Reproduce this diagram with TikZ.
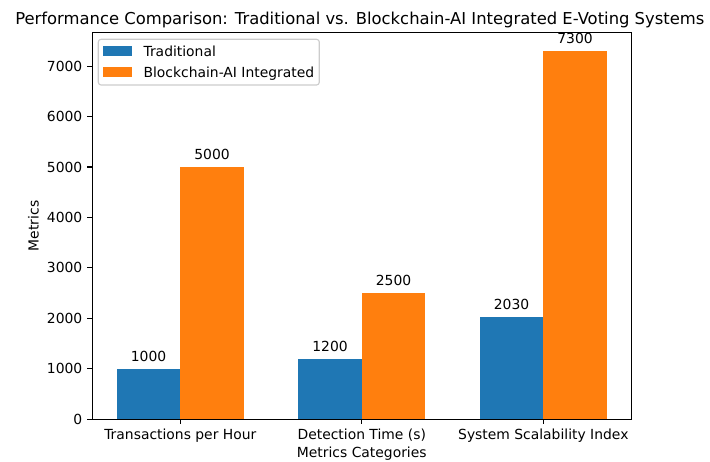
\documentclass[tikz,border=0pt]{standalone}
\usepackage{fontspec}
\setmainfont{DejaVu Sans}
\definecolor{tradblue}{HTML}{1F77B4}
\definecolor{chainorange}{HTML}{FF7F0E}
\definecolor{legendedge}{RGB}{204,204,204}
\tikzset{
  ticklabel/.style={inner sep=0pt, font=\fontsize{10}{12}\selectfont},
  barlabel/.style={inner sep=0pt, anchor=base, yshift=5.4pt, font=\fontsize{10}{12}\selectfont},
  tickmark/.style={line width=0.8pt},
  tradbar/.style={fill=tradblue},
  chainbar/.style={fill=chainorange},
}
\begin{document}
\begin{tikzpicture}[x=0.72pt,y=-0.72pt]
\useasboundingbox (0,0) rectangle (710,461);

% data area: x in category units, y in metric units
\begin{scope}[shift={(180.3,419.3)}, x=130.68pt, y=0.036338pt]
  % bars
  \foreach \i/\t/\b in {0/1000/5000, 1/1200/2500, 2/2030/7300} {
    \fill[tradbar] (\i-0.35,0) rectangle (\i,\t);
    \fill[chainbar] (\i,0) rectangle (\i+0.35,\b);
    \node[barlabel] (lt\i) at (\i-0.175,\t) {\t};
    \node[barlabel] (lb\i) at (\i+0.175,\b) {\b};
  }
  % axes frame
  \draw[line width=0.8pt] (-0.485,0) rectangle (2.485,7665);
  % y ticks
  \foreach \v in {0,1000,...,7000} {
    \draw[tickmark] (-0.485,\v) -- ++(-3.5pt,0);
    \node[ticklabel, anchor=east] (yt\v) at ([xshift=-7pt]-0.485,\v) {\v};
  }
  % x ticks
  \foreach \i/\lab in {0/Transactions per Hour, 1/Detection Time (s), 2/System Scalability Index} {
    \draw[tickmark] (\i,0) -- ++(0,-3.5pt);
    \node[ticklabel, anchor=north] (xt\i) at ([yshift=-7pt]\i,0) {\lab};
  }
\end{scope}

% axis titles
\node[inner sep=0pt, anchor=base, font=\fontsize{11.8}{14}\selectfont] (title) at (359.8,24.2)
  {Performance Comparison: Traditional vs. Blockchain-AI Integrated E-Voting Systems};
\node[inner sep=0pt, anchor=north, font=\fontsize{10}{12}\selectfont] (xlab) at (361.8,446.5) {Metrics Categories};
\node[inner sep=0pt, rotate=90, font=\fontsize{10}{12}\selectfont] (ylab) at (33.5,225.9) {Metrics};

% legend
\draw[legendedge, fill=white, fill opacity=0.8, rounded corners=2pt, line width=0.8pt]
  (98.3,39.3) rectangle (319.3,85);
\fill[tradbar] (103.3,46) rectangle (131.7,55.7);
\fill[chainbar] (103.3,67) rectangle (131.7,76.7);
\node[inner sep=0pt, anchor=base west, font=\fontsize{10}{12}\selectfont] (legtrad) at (143.3,56.3) {Traditional};
\node[inner sep=0pt, anchor=base west, font=\fontsize{10}{12}\selectfont] (legchain) at (143.3,77.4) {Blockchain-AI Integrated};
\end{tikzpicture}
\end{document}
